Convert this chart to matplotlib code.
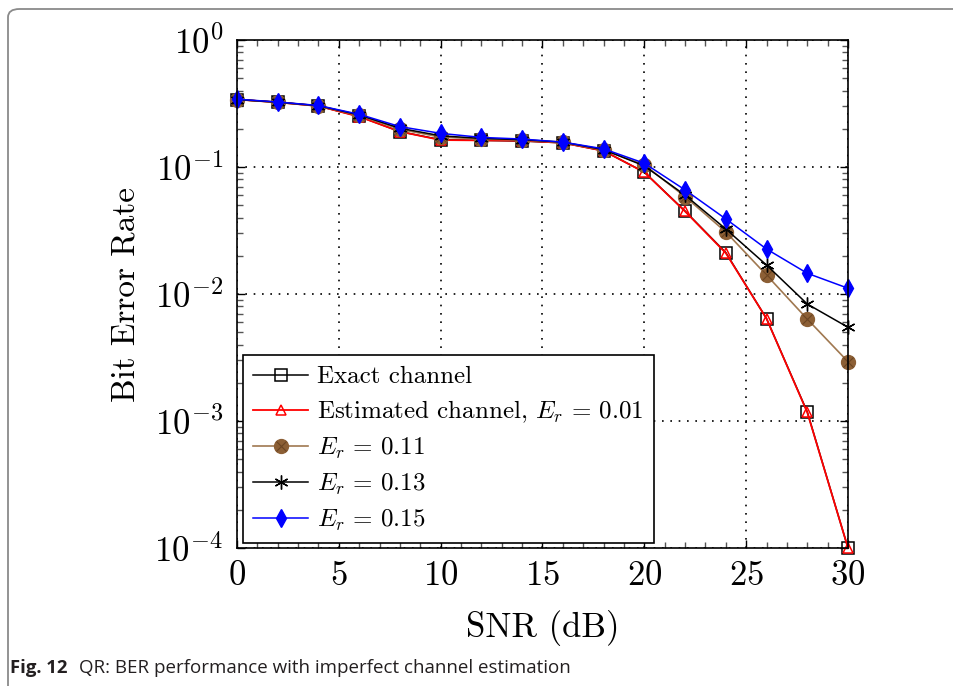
import matplotlib
matplotlib.use("Agg")
import matplotlib.pyplot as plt
from matplotlib.patches import FancyBboxPatch
from matplotlib.ticker import LogLocator, MultipleLocator, NullFormatter
from matplotlib.legend_handler import HandlerTuple

plt.rcParams['font.family'] = 'serif'
plt.rcParams['font.serif'] = ['cmr10', 'DejaVu Serif']
plt.rcParams['mathtext.fontset'] = 'cm'
plt.rcParams['axes.unicode_minus'] = False
plt.rcParams['axes.formatter.use_mathtext'] = True

snr = [0, 2, 4, 6, 8, 10, 12, 14, 16, 18, 20, 22, 24, 26, 28, 30]
ber_exact = [0.340, 0.323, 0.302, 0.250, 0.190, 0.164, 0.162, 0.160, 0.155, 0.134,
             0.091, 0.0450, 0.0212, 0.0064, 0.00118, 0.0001]
ber_est_001 = [0.340, 0.323, 0.302, 0.249, 0.190, 0.163, 0.162, 0.161, 0.155, 0.134,
               0.091, 0.0447, 0.0210, 0.0064, 0.00117, 0.0001]
ber_er_011 = [0.340, 0.323, 0.303, 0.255, 0.198, 0.172, 0.166, 0.163, 0.156, 0.136,
              0.104, 0.0584, 0.0308, 0.0141, 0.00635, 0.00293]
ber_er_013 = [0.340, 0.324, 0.304, 0.257, 0.202, 0.176, 0.168, 0.164, 0.157, 0.137,
              0.102, 0.0600, 0.0325, 0.0169, 0.00834, 0.00547]
ber_er_015 = [0.342, 0.325, 0.305, 0.260, 0.208, 0.184, 0.171, 0.166, 0.157, 0.139,
              0.107, 0.0660, 0.0390, 0.0226, 0.01456, 0.0111]

labels = ['Exact channel', r'Estimated channel, $E_r\,=\,0.01$',
          r'$E_r\,=\,0.11$', r'$E_r\,=\,0.13$', r'$E_r\,=\,0.15$']

fig = plt.figure(figsize=(9.54, 6.86), dpi=100)
# outer frame
frame = FancyBboxPatch((8/954, -0.05), 1.2, 1 - 9/686 + 0.05,
                       boxstyle="round,pad=0,rounding_size=0.012",
                       transform=fig.transFigure, fill=False,
                       edgecolor='#8a8a8a', linewidth=1.3, clip_on=False)
fig.patches.append(frame)

ax = fig.add_axes([237/954, 1 - 548/686, (848-237)/954, (548-40)/686])

h0, = ax.plot(snr, ber_exact, color='black', lw=1.1, marker='s', markersize=9,
              markerfacecolor='none', markeredgecolor='black', markeredgewidth=1.1,
              clip_on=False)
h1, = ax.plot(snr, ber_est_001, color='red', lw=1.3, marker='^', markersize=7.5,
              markerfacecolor='none', markeredgecolor='red', markeredgewidth=1.1,
              clip_on=False)
h2a, = ax.plot(snr, ber_er_011, color='#a07850', lw=1.2, marker='o', markersize=10,
               markerfacecolor='#8c5f35', markeredgecolor='#8c5f35', clip_on=False)
h2b, = ax.plot(snr, ber_er_011, ls='none', marker='x', markersize=6.5,
               markeredgecolor='#6b4523', markeredgewidth=0.8, clip_on=False)
h3, = ax.plot(snr, ber_er_013, color='black', lw=1.1, marker=(6, 2, 0), markersize=10,
              markeredgecolor='black', markeredgewidth=1.0, clip_on=False)
h4, = ax.plot(snr, ber_er_015, color='#0000ff', lw=1.1, marker='d', markersize=9,
              markerfacecolor='#0000ff', markeredgecolor='#0000ff', clip_on=False)

ax.set_yscale('log')
ax.set_xlim(0, 30)
ax.set_ylim(1e-4, 1)
ax.xaxis.set_major_locator(MultipleLocator(5))
ax.xaxis.set_minor_locator(MultipleLocator(1))
ax.yaxis.set_major_locator(LogLocator(base=10, numticks=10))
ax.yaxis.set_minor_locator(LogLocator(base=10, subs=range(2, 10), numticks=20))
ax.yaxis.set_minor_formatter(NullFormatter())

ax.grid(True, which='major', color='black', linestyle=(0, (1, 4)), linewidth=1.2)
ax.tick_params(which='both', direction='in', top=True, right=True, width=1.0)
ax.tick_params(which='major', length=6, labelsize=25)
ax.tick_params(which='minor', length=4.5, color='#555555')
ax.tick_params(axis='y', which='major', pad=10)
ax.tick_params(axis='x', which='major', pad=9)
for s in ax.spines.values():
    s.set_linewidth(1.2)

ax.set_xlabel('SNR (dB)', fontsize=25, labelpad=13)
ax.set_ylabel('Bit Error Rate', fontsize=24, labelpad=10)

leg = ax.legend([h0, h1, (h2a, h2b), h3, h4], labels,
                handler_map={tuple: HandlerTuple(ndivide=1, pad=0)},
                loc='lower left', bbox_to_anchor=(0.0098, 0.0098),
                fontsize=18, frameon=True, fancybox=False, framealpha=1,
                edgecolor='black', handlelength=2.2, handletextpad=0.35,
                labelspacing=0.42, borderpad=0.42, borderaxespad=0)
leg.get_frame().set_linewidth(1.2)

fig.text(10/954, 1 - 673/686, 'Fig. 12', fontsize=13.3, fontweight='bold',
         family='Open Sans', color='#231f20', ha='left', va='baseline')
fig.text(79/954, 1 - 673/686, 'QR: BER performance with imperfect channel estimation',
         fontsize=13.5, family='Open Sans', color='#231f20', ha='left', va='baseline')

fig.savefig('out.png', dpi=100)
